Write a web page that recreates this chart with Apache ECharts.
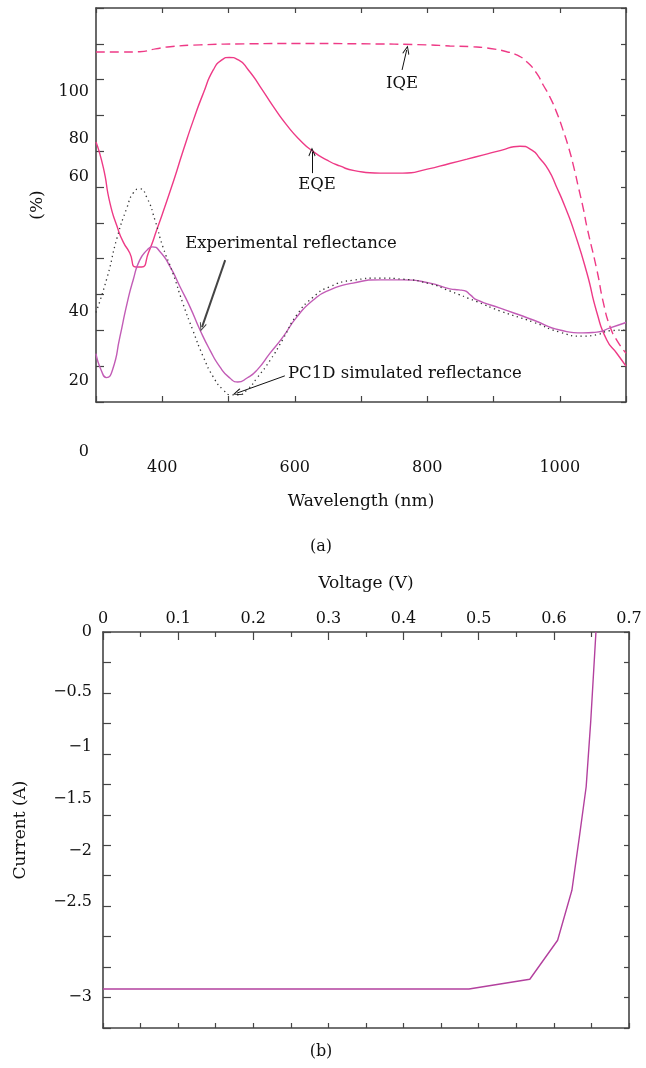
<!DOCTYPE html>
<html>
<head>
<meta charset="utf-8">
<script src="https://cdn.jsdelivr.net/npm/echarts@6/dist/echarts.min.js"></script>
<style>
  html, body { margin: 0; padding: 0; background: #fff; }
  #chart { width: 646px; height: 1068px; }
</style>
</head>
<body>
<div id="chart"></div>
<script>
// (a) quantum efficiency and reflectance vs wavelength
const iqeNm = [300, 340, 366, 390, 412, 457, 530, 600, 700, 800, 834, 865, 895, 920, 935, 950, 965, 975, 985, 995, 1005, 1013, 1021, 1028, 1036, 1041, 1056, 1066, 1076, 1086, 1100];
const iqe = [97.7, 97.7, 97.8, 98.6, 99.2, 99.7, 100, 100.1, 100, 99.7, 99.4, 99.2, 98.7, 97.8, 96.9, 95, 91.8, 88.5, 85.2, 81, 75.9, 71.3, 65.7, 60.1, 53.6, 48.9, 36.9, 27.6, 21, 17.3, 13.6];

const eqeNm = [300, 311, 321, 332, 341, 351, 360, 369, 379, 392, 414, 432, 447, 462, 477, 490, 501, 515, 530, 548, 568, 588, 608, 628, 648, 668, 690, 729, 763, 800, 834, 860, 885, 910, 940, 958, 970, 983, 995, 1008, 1022, 1041, 1056, 1071, 1086, 1100];
const eqe = [72.6, 65.5, 55.6, 48.9, 44.7, 41.6, 37.7, 37.7, 41.6, 48.2, 60.0, 70.4, 78.7, 86.2, 92.7, 95.5, 96.2, 95.5, 92.7, 88.0, 82.4, 77.3, 73.1, 69.9, 67.6, 65.9, 64.6, 63.9, 63.9, 65.0, 66.6, 67.8, 69.0, 70.2, 71.4, 70.3, 68.0, 64.8, 60.1, 54.5, 47.5, 36.0, 25.0, 17.3, 13.6, 10.0];

const expNm = [300, 308, 316, 325, 336, 347, 356, 366, 377, 385, 397, 412, 427, 442, 457, 472, 487, 502, 514, 528, 543, 563, 582, 603, 628, 653, 688, 729, 763, 804, 834, 848, 856, 865, 875, 910, 960, 1000, 1035, 1056, 1076, 1100];
const expRefl = [13.5, 8.8, 6.8, 9.0, 18.1, 27.6, 34.0, 39.6, 42.4, 43.3, 41.9, 37.7, 32.1, 26.5, 20.1, 14.5, 9.8, 6.7, 5.6, 6.7, 8.9, 13.7, 18.1, 23.7, 28.5, 31.3, 33.2, 34.1, 34.1, 33.2, 31.6, 31.3, 31.1, 29.9, 28.5, 26.2, 22.9, 20.1, 19.3, 19.5, 20.7, 22.2];

const simNm = [300, 317, 332, 347, 356, 366, 377, 389, 401, 416, 431, 446, 462, 477, 492, 505, 514, 528, 543, 563, 582, 603, 628, 653, 688, 729, 763, 804, 834, 875, 910, 960, 1000, 1035, 1056, 1076, 1100];
const simRefl = [25, 34.9, 46, 54.4, 58.3, 59.5, 57, 50.8, 43.3, 36, 27.6, 20.1, 12.6, 7, 3.4, 2.0, 2.0, 3.4, 6.7, 11.7, 17.5, 24.3, 29.3, 32.2, 34, 34.6, 34.3, 33.0, 31.0, 28.0, 25.4, 22.3, 19.5, 18.4, 18.8, 19.9, 20.1];

// (b) I-V curve
const voltage = [0, 0.487, 0.568, 0.605, 0.624, 0.634, 0.643, 0.649, 0.656];
const current = [-2.93, -2.93, -2.85, -2.53, -2.12, -1.68, -1.27, -0.74, 0];

// tick labels as printed (they sit off the tick marks in the original)
const pctLabels = ['100', '80', '60', '40', '20', '0'];
const ampLabels = ['0', '\u22120.5', '\u22121', '\u22121.5', '\u22122', '\u22122.5', '\u22123'];

const pctLabelY = [92, 139, 177, 312, 381, 452];
const ampLabelY = [632, 692, 747, 799, 851, 902, 997];

const zip = (xs, ys) => xs.map((x, i) => [x, ys[i]]);

const FONT = '"DejaVu Serif", serif';
const TXT = '#111';
const AX = '#444';
const PINK = '#ee3a86';
const chevron = 'path://M5,0L10,9L9,10L5,2.6L1,10L0,9Z';

const axLine = { show: true, onZero: false, lineStyle: { color: AX, width: 1.6 } };
const tick = len => ({ show: true, inside: true, length: len, lineStyle: { color: AX, width: 1.2 } });
const nameStyle = { fontFamily: FONT, fontSize: 17, color: TXT };

const arrow = (from, to, color, width) => [
  { coord: from, lineStyle: { color: color, width: width, type: 'solid' } },
  { coord: to }
];

const text = (str, x, y, align, size) => ({
  type: 'text', x: x, y: y, silent: true,
  style: { text: str, font: (size || 16) + 'px ' + FONT, fill: TXT, align: align || 'center', verticalAlign: 'middle' }
});

const graphics = [];
pctLabels.forEach((s, i) => graphics.push(text(s, 89, pctLabelY[i], 'right')));
ampLabels.forEach((s, i) => graphics.push(text(s, 92, ampLabelY[i], 'right')));
graphics.push(text('IQE', 402, 84, 'center', 16.5));
graphics.push(text('EQE', 317, 185, 'center', 16.5));
graphics.push(text('Experimental reflectance', 291, 244, 'center', 16.5));
graphics.push(text('PC1D simulated reflectance', 288, 374, 'left', 16.5));
graphics.push(text('(a)', 321, 547));
graphics.push(text('(b)', 321, 1052));

const smoothLine = { smooth: 0.6, symbol: 'none' };

const chart = echarts.init(document.getElementById('chart'));
chart.setOption({
  animation: false,
  backgroundColor: '#fff',
  textStyle: { fontFamily: FONT },
  grid: [
    { left: 96, top: 8, width: 530, height: 394 },
    { left: 103, top: 632, width: 526, height: 396 }
  ],
  xAxis: [
    {
      gridIndex: 0, type: 'value', min: 300, max: 1100, interval: 100, position: 'bottom',
      name: 'Wavelength (nm)', nameLocation: 'middle', nameGap: 91, nameTextStyle: nameStyle,
      axisLine: axLine, axisTick: tick(6), splitLine: { show: false },
      axisLabel: {
        margin: 58, fontFamily: FONT, fontSize: 16, color: TXT,
        formatter: v => (v % 200 === 0 && v >= 400 && v <= 1000) ? String(v) : ''
      }
    },
    {
      gridIndex: 0, type: 'value', min: 300, max: 1100, interval: 100, position: 'top',
      axisLine: axLine, axisTick: tick(5), axisLabel: { show: false }, splitLine: { show: false }
    },
    {
      gridIndex: 1, type: 'value', min: 0, max: 0.7, interval: 0.1, position: 'top',
      name: 'Voltage (V)', nameLocation: 'middle', nameGap: 40, nameTextStyle: nameStyle,
      axisLine: axLine, axisTick: tick(8),
      minorTick: { show: true, splitNumber: 2, length: 5, lineStyle: { color: AX, width: 1.2 } },
      axisLabel: { margin: 5, fontFamily: FONT, fontSize: 16, color: TXT, formatter: v => String(+v.toFixed(1)) },
      splitLine: { show: false }
    },
    {
      gridIndex: 1, type: 'value', min: 0, max: 0.7, interval: 0.05, position: 'bottom',
      axisLine: axLine, axisTick: tick(5), axisLabel: { show: false }, splitLine: { show: false }
    }
  ],
  yAxis: [
    {
      gridIndex: 0, type: 'value', min: 0, max: 110, interval: 10, position: 'left',
      name: '(%)', nameLocation: 'middle', nameGap: 50, nameRotate: 90, nameTextStyle: nameStyle,
      axisLine: axLine, axisTick: tick(8), axisLabel: { show: false }, splitLine: { show: false }
    },
    {
      gridIndex: 0, type: 'value', min: 0, max: 110, interval: 10, position: 'right',
      axisLine: axLine, axisTick: tick(5), axisLabel: { show: false }, splitLine: { show: false }
    },
    {
      gridIndex: 1, type: 'value', min: -3.25, max: 0, interval: 0.25, position: 'left',
      name: 'Current (A)', nameLocation: 'middle', nameGap: 74, nameRotate: 90, nameTextStyle: nameStyle,
      axisLine: axLine, axisTick: tick(8), axisLabel: { show: false }, splitLine: { show: false }
    },
    {
      gridIndex: 1, type: 'value', min: -3.25, max: 0, interval: 0.25, position: 'right',
      axisLine: axLine, axisTick: tick(5), axisLabel: { show: false }, splitLine: { show: false }
    }
  ],
  series: [
    Object.assign({
      name: 'IQE', type: 'line', xAxisIndex: 0, yAxisIndex: 0, data: zip(iqeNm, iqe),
      lineStyle: { color: PINK, width: 1.4, type: [9, 5] }
    }, smoothLine),
    Object.assign({
      name: 'EQE', type: 'line', xAxisIndex: 0, yAxisIndex: 0, data: zip(eqeNm, eqe),
      lineStyle: { color: PINK, width: 1.4 },
      markLine: {
        silent: true, symbol: ['none', chevron], symbolSize: [7, 9],
        label: { show: false }, emphasis: { disabled: true },
        data: [
          arrow([762, 92.7], [769, 98.3], '#111', 1),
          arrow([626, 63.9], [626, 69.8], '#111', 1),
          arrow([495, 39.6], [460, 20.9], '#444', 2),
          arrow([585, 7.3], [513, 2.5], '#111', 1)
        ]
      }
    }, smoothLine),
    Object.assign({
      name: 'Experimental reflectance', type: 'line', xAxisIndex: 0, yAxisIndex: 0, data: zip(expNm, expRefl),
      lineStyle: { color: '#c25cb6', width: 1.4 }
    }, smoothLine),
    Object.assign({
      name: 'PC1D simulated reflectance', type: 'line', xAxisIndex: 0, yAxisIndex: 0, data: zip(simNm, simRefl),
      lineStyle: { color: '#333', width: 1.3, type: [1.3, 3.5] }
    }, smoothLine),
    {
      name: 'I-V', type: 'line', xAxisIndex: 2, yAxisIndex: 2, data: zip(voltage, current),
      symbol: 'none', lineStyle: { color: '#b3409e', width: 1.4 }
    }
  ],
  graphic: graphics
});
</script>
</body>
</html>
